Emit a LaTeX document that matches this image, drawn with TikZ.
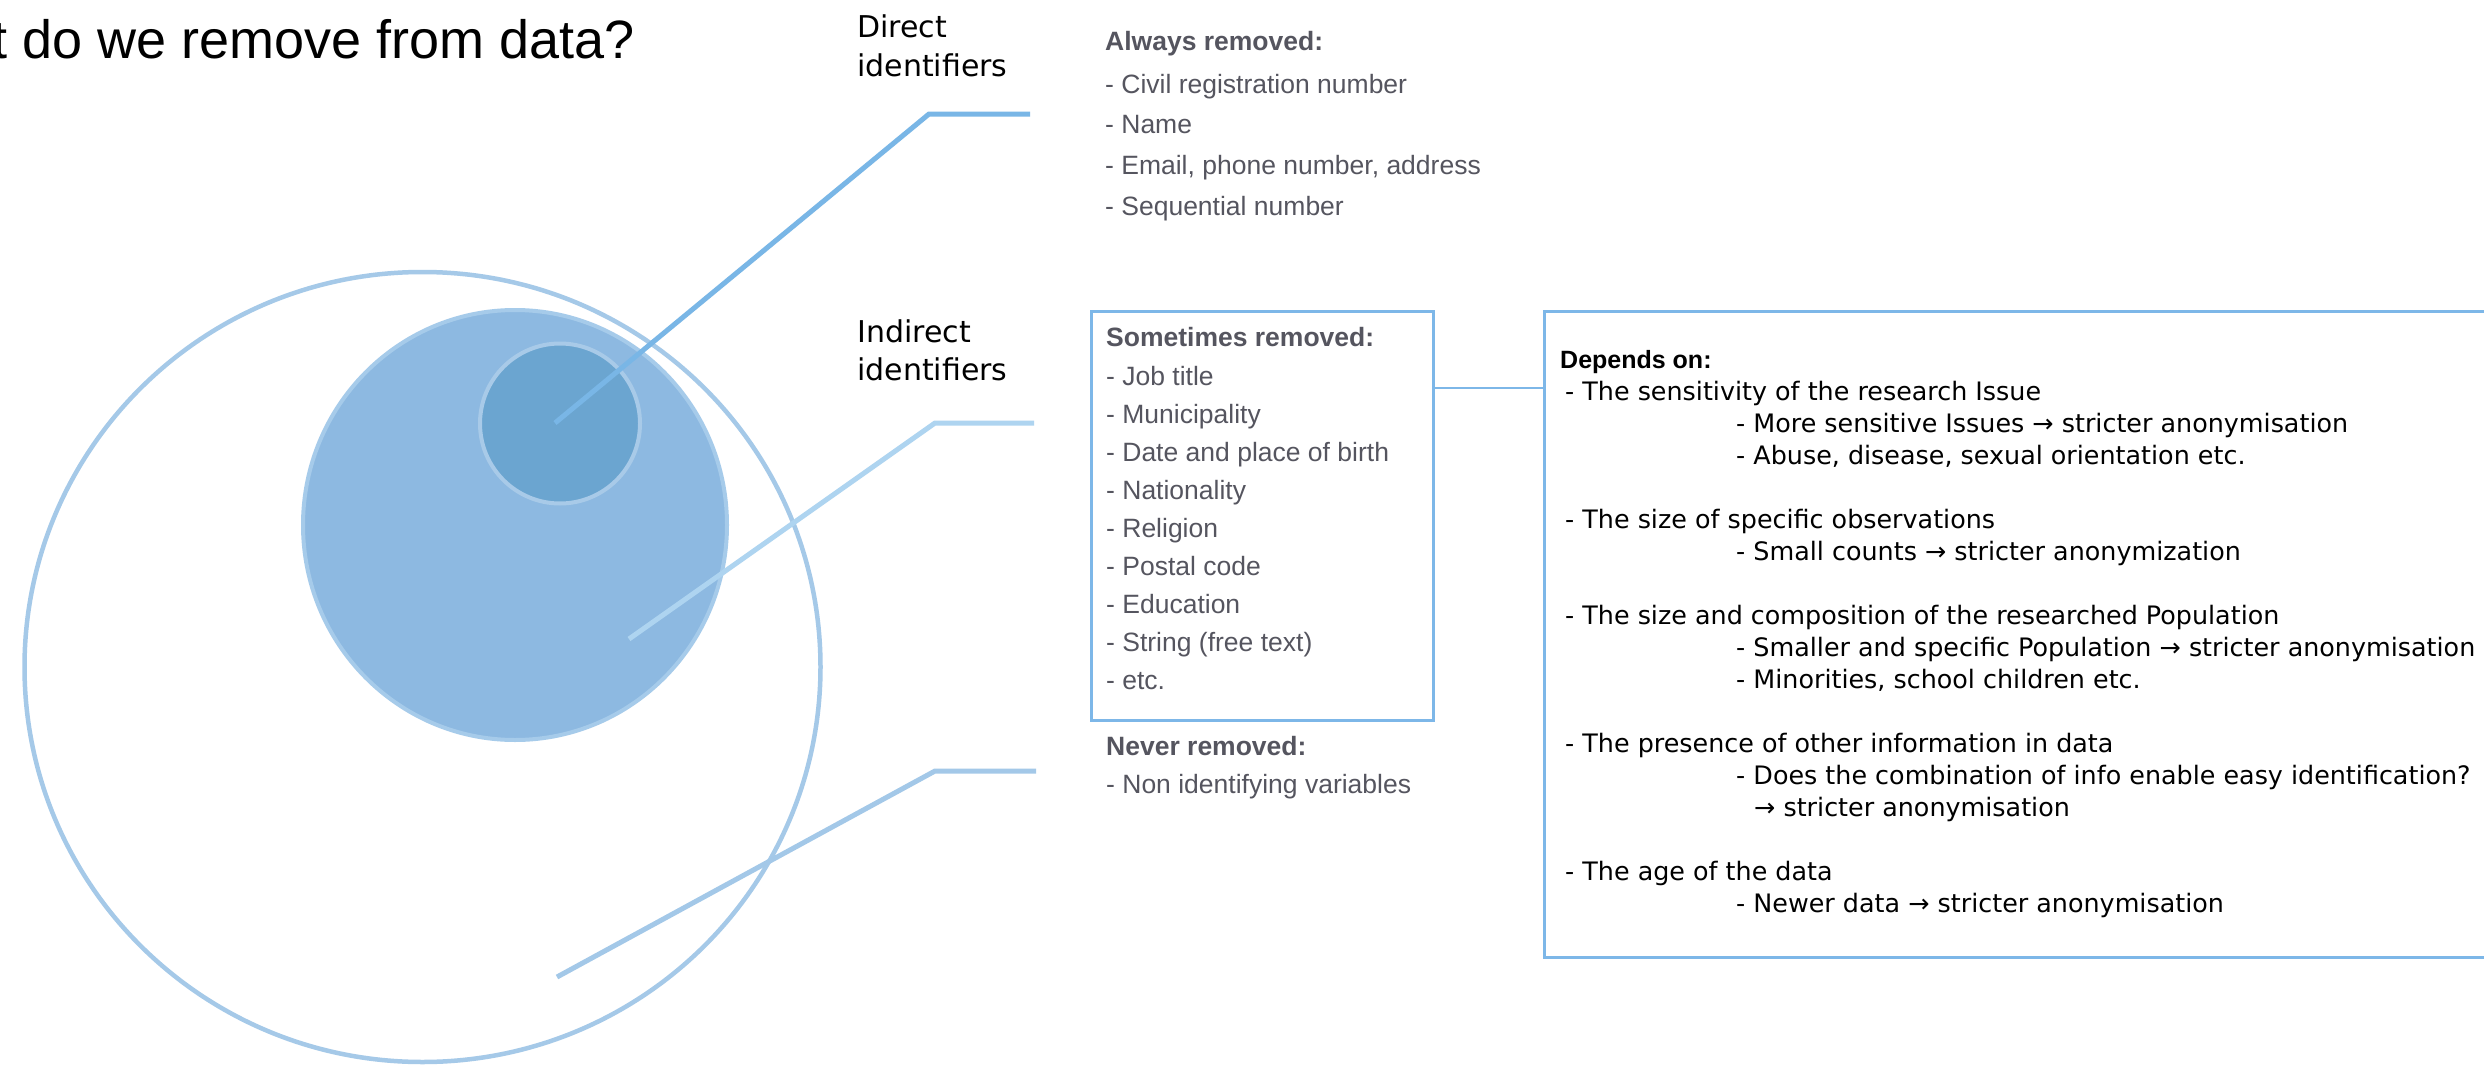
\documentclass[tikz,border=0pt]{standalone}
\usepackage{fontspec}
\setmainfont{Liberation Sans}
\newfontfamily\dejavu{DejaVu Sans}
\usetikzlibrary{shapes.geometric}

\definecolor{ringblue}{HTML}{A5C9E8}
\definecolor{midfill}{HTML}{8DB9E1}
\definecolor{midring}{HTML}{A6CBEA}
\definecolor{corefill}{HTML}{6BA5D0}
\definecolor{corering}{HTML}{A8CAE8}
\definecolor{leadA}{HTML}{79B6E6}
\definecolor{leadB}{HTML}{AED4F0}
\definecolor{leadC}{HTML}{A3C8E8}
\definecolor{boxblue}{HTML}{7DB7E8}
\definecolor{greytxt}{HTML}{55555F}

\begin{document}
\begin{tikzpicture}[x=1pt,y=-1pt,
  greytext/.style={anchor=base west, inner sep=0pt, text=greytxt,
    font=\fontsize{26.5}{30}\selectfont},
  greyhead/.style={greytext, font=\fontsize{26.5}{30}\selectfont\bfseries},
  deptext/.style={anchor=base west, inner sep=0pt, text=black,
    font=\dejavu\fontsize{25.4}{30}\selectfont},
  dephead/.style={deptext, font=\fontsize{25}{30}\selectfont\bfseries},
  tag/.style={anchor=base west, inner sep=0pt, text=black,
    font=\dejavu\fontsize{30}{36}\selectfont},
  leader/.style={line width=5pt},
  frame/.style={draw=boxblue, line width=3pt, inner sep=0pt, outer sep=0pt,
    anchor=north west},
  blob/.style={ellipse, inner sep=0pt, outer sep=0pt}]

\useasboundingbox (0,0) rectangle (2484,1065);
\clip (0,0) rectangle (2484,1065);
\fill[white] (0,0) rectangle (2484,1065);

% title (runs off the left edge)
\node[anchor=base west, inner sep=0pt, font=\fontsize{54}{60}\selectfont]
  (title) at (-119,59) {What do we remove from data?};

% nested sets
\node[blob, draw=ringblue, line width=4.5pt,
  minimum width=796pt, minimum height=790pt] (outer) at (422.5,667) {};
\node[blob, fill=midfill, draw=midring, line width=4pt,
  minimum width=424pt, minimum height=430pt] (middle) at (515,525) {};
\node[blob, fill=corefill, draw=corering, line width=4pt,
  minimum width=160pt, minimum height=160pt] (core) at (560,423.5) {};

% leader lines
\coordinate (a0) at (555,423);
\coordinate (a1) at (929,114);
\coordinate (a2) at (1030,114);
\coordinate (b0) at (629,639);
\coordinate (b1) at (935,423);
\coordinate (b2) at (1034,423);
\coordinate (c0) at (557,977);
\coordinate (c1) at (935,771);
\coordinate (c2) at (1036,771);
\draw[leader, leadA] (a0) -- (a1) -- (a2);
\draw[leader, leadB] (b0) -- (b1) -- (b2);
\draw[leader, leadC] (c0) -- (c1) -- (c2);

% category labels
\node[tag] (dir1) at (857,38) {Direct};
\node[tag] (dir2) at (857,77) {identifiers};
\node[tag] (ind1) at (857,342) {Indirect};
\node[tag] (ind2) at (857,380) {identifiers};

% always removed
\node[greyhead] (alw) at (1105,51) {Always removed:};
\foreach \y/\t [count=\i] in {93/{- Civil registration number}, 133/{- Name},
    174/{- Email, phone number, address}, 215/{- Sequential number}}
  \node[greytext] (alw\i) at (1105,\y) {\t};

% sometimes removed
\node[frame, minimum width=342pt, minimum height=409pt] (sbox) at (1091,311) {};
\node[greyhead] (som) at (1106,346) {Sometimes removed:};
\foreach \y/\t [count=\i] in {385/{- Job title}, 423/{- Municipality},
    461/{- Date and place of birth}, 499/{- Nationality}, 537/{- Religion},
    575/{- Postal code}, 613/{- Education}, 651/{- String (free text)},
    689/{- etc.}}
  \node[greytext] (som\i) at (1106,\y) {\t};

% never removed
\node[greyhead] (nev) at (1106,755) {Never removed:};
\node[greytext] (nev1) at (1106,793) {- Non identifying variables};

% depends-on panel
\node[frame, minimum width=1000pt, minimum height=646pt] (dbox) at (1544,311) {};
\coordinate (jy) at (0,388);
\draw[boxblue, line width=2.5pt] (sbox.east |- jy) -- (dbox.west |- jy);

\node[dephead] (dep) at (1560,368) {Depends on:};
\foreach \x/\y/\t [count=\i] in {
    1565/400/{- The sensitivity of the research Issue},
    1736/432/{- More sensitive Issues → stricter anonymisation},
    1736/464/{- Abuse, disease, sexual orientation etc.},
    1565/528/{- The size of specific observations},
    1736/560/{- Small counts → stricter anonymization},
    1565/624/{- The size and composition of the researched Population},
    1736/656/{- Smaller and specific Population → stricter anonymisation},
    1736/688/{- Minorities, school children etc.},
    1565/752/{- The presence of other information in data},
    1736/784/{- Does the combination of info enable easy identification?},
    1754/816/{→ stricter anonymisation},
    1565/880/{- The age of the data},
    1736/912/{- Newer data → stricter anonymisation}}
  \node[deptext] (dep\i) at (\x,\y) {\t};
\end{tikzpicture}
\end{document}
